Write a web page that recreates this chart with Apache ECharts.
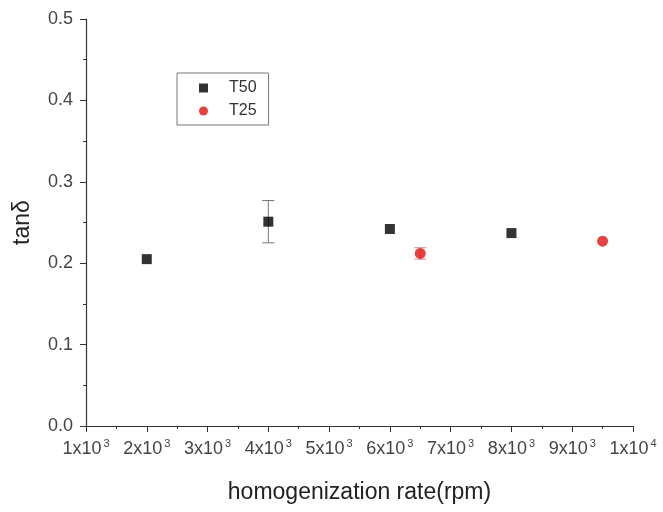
<!DOCTYPE html>
<html><head><meta charset="utf-8">
<script src="https://cdn.jsdelivr.net/npm/echarts@6/dist/echarts.min.js"></script>
<style>html,body{margin:0;padding:0;background:#fff}#c{width:663px;height:512px}</style>
</head><body><div id="c"></div>
<script>
const t50X = [2000, 4000, 6000, 8000];
const t50Y = [0.205, 0.251, 0.242, 0.237];
const t50Err = [0, 0.026, 0, 0];
const t25X = [6500, 9500];
const t25Y = [0.212, 0.227];
const t25Err = [0.007, 0];

const chart = echarts.init(document.getElementById('c'));
const font = 'Liberation Sans, Arial, sans-serif';
function errSeries(xs, ys, es, color) {
  return {
    type: 'custom', silent: true, z: 1,
    data: xs.map((x, i) => [x, ys[i], es[i]]).filter(d => d[2] > 0),
    renderItem: function (params, api) {
      const x = api.value(0), y = api.value(1), e = api.value(2);
      const top = api.coord([x, y + e]);
      const bot = api.coord([x, y - e]);
      const w = 6;
      const st = {stroke: color, lineWidth: 1};
      return {type: 'group', children: [
        {type: 'line', shape: {x1: top[0], y1: top[1], x2: bot[0], y2: bot[1]}, style: st},
        {type: 'line', shape: {x1: top[0] - w, y1: top[1], x2: top[0] + w, y2: top[1]}, style: st},
        {type: 'line', shape: {x1: bot[0] - w, y1: bot[1], x2: bot[0] + w, y2: bot[1]}, style: st}
      ]};
    }
  };
}
chart.setOption({
  animation: false,
  backgroundColor: '#fff',
  grid: {left: 86, right: 30, top: 19, bottom: 86},
  legend: {
    orient: 'vertical', left: 177, top: 73,
    borderColor: '#777', borderWidth: 1, padding: [7, 12, 6, 22],
    itemWidth: 9, itemHeight: 9, itemGap: 7,
    textStyle: {fontFamily: font, fontSize: 16, color: '#333', padding: [0, 0, 0, 16]},
    data: [{name: 'T50', icon: 'rect'}, {name: 'T25', icon: 'circle'}]
  },
  xAxis: {
    type: 'value', min: 1000, max: 10000, interval: 1000,
    name: 'homogenization rate(rpm)', nameLocation: 'middle', nameGap: 55,
    nameTextStyle: {fontFamily: font, fontSize: 23, color: '#222'},
    axisLine: {lineStyle: {color: '#333', width: 1.2}},
    axisTick: {show: true, inside: false, length: 6, lineStyle: {color: '#333'}},
    minorTick: {show: true, splitNumber: 2, length: 3, lineStyle: {color: '#333'}},
    splitLine: {show: false},
    axisLabel: {
      margin: 12, color: '#444', fontFamily: font, fontSize: 18,
      formatter: function (v) {
        const e = Math.floor(Math.log10(v) + 1e-9);
        const m = Math.round(v / Math.pow(10, e));
        return m + 'x10{sup|' + e + '}';
      },
      rich: {sup: {fontSize: 11, color: '#444', fontFamily: font, verticalAlign: 'top', padding: [0, 0, 12, 2]}}
    }
  },
  yAxis: {
    type: 'value', min: 0, max: 0.5, interval: 0.1,
    name: 'tanδ', nameLocation: 'middle', nameGap: 52, nameRotate: 90,
    nameTextStyle: {fontFamily: font, fontSize: 23, color: '#222'},
    axisLine: {show: true, lineStyle: {color: '#333', width: 1.2}},
    axisTick: {show: true, inside: false, length: 6, lineStyle: {color: '#333'}},
    minorTick: {show: true, splitNumber: 2, length: 3, lineStyle: {color: '#333'}},
    splitLine: {show: false},
    axisLabel: {margin: 13, color: '#444', fontFamily: font, fontSize: 18,
      formatter: v => v.toFixed(1)}
  },
  series: [
    errSeries(t50X, t50Y, t50Err, '#777'),
    errSeries(t25X, t25Y, t25Err, '#d88'),
    {name: 'T50', type: 'scatter', symbol: 'rect', symbolSize: 10, z: 3,
     itemStyle: {color: '#000'}, data: t50X.map((x, i) => [x, t50Y[i]])},
    {name: 'T25', type: 'scatter', symbol: 'circle', symbolSize: 11, z: 3,
     itemStyle: {color: '#e01010'}, data: t25X.map((x, i) => [x, t25Y[i]])}
  ]
});
</script></body></html>
